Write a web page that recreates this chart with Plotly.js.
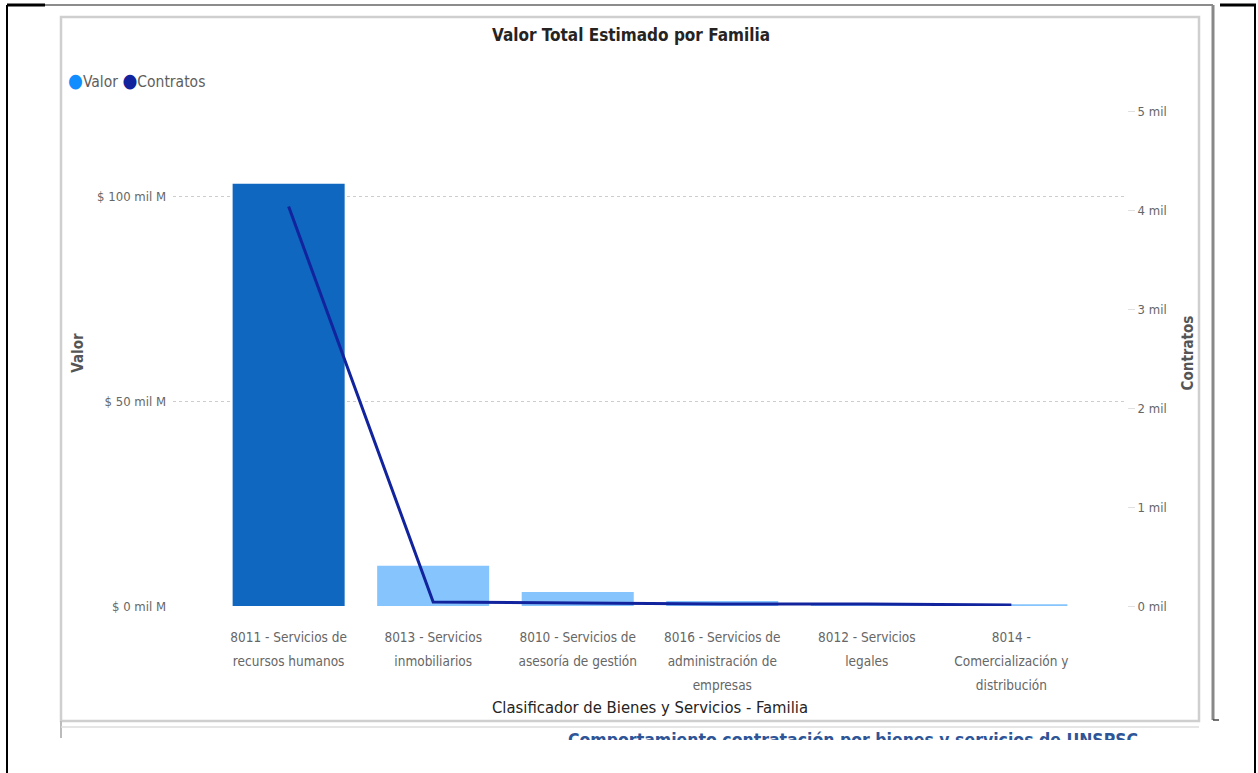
<!DOCTYPE html>
<html>
<head>
<meta charset="utf-8">
<script src="https://cdn.plot.ly/plotly-3.0.1.min.js"></script>
<style>
  html, body { margin:0; padding:0; background:#fff; }
  #wrap { position:relative; width:1258px; height:773px; overflow:hidden; }
  #chart { position:absolute; left:0; top:0; width:1258px; height:773px; }
  #cut { position:absolute; left:568px; top:730px; width:600px; height:10px; overflow:hidden;
         font-family:"DejaVu Sans Condensed","Open Sans",sans-serif; font-size:17.5px; font-weight:bold; color:#2E5597; white-space:nowrap; line-height:20px; }
</style>
</head>
<body>
<div id="wrap">
<div id="chart"></div>
<div id="cut">Comportamiento contratación por bienes y servicios de UNSPSC</div>
</div>
<script>
// ---- data ----
const categories = [
  "8011 - Servicios de<br>recursos humanos",
  "8013 - Servicios<br>inmobiliarios",
  "8010 - Servicios de<br>asesoría de gestión",
  "8016 - Servicios de<br>administración de<br>empresas",
  "8012 - Servicios<br>legales",
  "8014 -<br>Comercialización y<br>distribución"
];
const valorMilM = [103, 9.8, 3.4, 1.2, 0.6, 0.4];      // $ mil M
const contratos = [4040, 40, 30, 20, 20, 10];            // contracts
const leftTickVals = [0, 50, 100];
const leftTickText = ["$ 0 mil M", "$ 50 mil M", "$ 100 mil M"];
const rightTickVals = [0, 1000, 2000, 3000, 4000, 5000];
const rightTickText = ["0 mil", "1 mil", "2 mil", "3 mil", "4 mil", "5 mil"];

// ---- layout helpers ----
const W = 1258, H = 773;
const M = {l:173, r:131, t:100, b:167};
const PW = W - M.l - M.r, PH = H - M.t - M.b;
const px = x => (x - M.l) / PW;
const py = y => (H - M.b - y) / PH;

const FONT = '"DejaVu Sans Condensed", "Open Sans", sans-serif';
const barColors = valorMilM.map((v, i) => i === 0 ? '#0F67C0' : '#85C4FC');
const xIdx = categories.map((c, i) => i);

const traces = [
  {
    type: 'bar', name: 'Valor', x: xIdx, y: valorMilM,
    marker: {color: barColors}, width: 0.775, yaxis: 'y', hoverinfo: 'x+y'
  },
  {
    type: 'scatter', mode: 'lines', name: 'Contratos', x: xIdx, y: contratos,
    line: {color: '#12239E', width: 3}, yaxis: 'y2'
  }
];

function line(x0, y0, x1, y1, color, w) {
  return {type:'line', xref:'paper', yref:'paper', x0:px(x0), y0:py(y0), x1:px(x1), y1:py(y1),
          line:{color:color, width:w}, layer:'above'};
}

const shapes = [
  // outer document frame
  line(7, 5, 45, 5, '#000', 3),
  line(7, 5, 7, 773, '#000', 2),
  line(45, 5, 1213, 5, '#666', 1.5),
  line(1213, 5, 1213, 720, '#888', 3),
  line(1220, 5, 1256, 5, '#000', 3),
  line(1255, 5, 1255, 773, '#000', 2),
  line(1213, 720, 1219, 720, '#444', 1.5),
  // card border
  {type:'rect', xref:'paper', yref:'paper', x0:px(61), y0:py(17), x1:px(1199), y1:py(721),
   line:{color:'#CFCFCF', width:2.5}, fillcolor:'rgba(0,0,0,0)', layer:'below'},
  line(61, 721, 61, 738, '#BBB', 2),
  line(61, 727, 1199, 727, '#DDD', 1.5)
];

const layout = {
  width: W, height: H,
  margin: M,
  paper_bgcolor: '#fff', plot_bgcolor: 'rgba(0,0,0,0)',
  showlegend: false,
  bargap: 0.2,
  font: {family: FONT, color: '#666'},
  title: {text: 'Valor Total Estimado por Familia', xref: 'container', x: 631 / W, xanchor: 'center',
          y: 1 - 35 / H, yanchor: 'middle', font: {family: FONT, size: 17, color: '#252423', weight: 'bold'}},
  xaxis: {
    range: [-0.8, 5.8], tickvals: xIdx, ticktext: categories,
    showgrid: false, zeroline: false, showline: false, ticks: '',
    ticklabelstandoff: 21,
    tickfont: {family: FONT, size: 13.5, color: '#666'},
    title: {text: 'Clasificador de Bienes y Servicios - Familia', standoff: 22,
            font: {family: FONT, size: 16.5, color: '#252423'}},
    automargin: false, fixedrange: true
  },
  yaxis: {
    range: [0, PH / 4.1], tickvals: leftTickVals, ticktext: leftTickText,
    showgrid: true, gridcolor: '#CFCDCB', griddash: 'dot', gridwidth: 1,
    zeroline: false, showline: false, ticks: '',
    ticklabelstandoff: 6,
    tickfont: {family: FONT, size: 13, color: '#666'},
    title: {text: 'Valor', standoff: 9, font: {family: FONT, size: 15, color: '#555', weight: 'bold'}},
    automargin: false
  },
  yaxis2: {
    overlaying: 'y', side: 'right',
    range: [0, PH / 98.9 * 1000], tickvals: rightTickVals, ticktext: rightTickText,
    showgrid: false, zeroline: false, showline: false,
    ticks: 'outside', ticklen: 7, tickcolor: '#E0E0E0', tickwidth: 1,
    tickfont: {family: FONT, size: 13, color: '#666'},
    title: {text: 'Contratos', standoff: 16, font: {family: FONT, size: 15, color: '#555', weight: 'bold'}},
    automargin: false
  },
  shapes: shapes,
  annotations: [
    {xref:'paper', yref:'paper', x: px(66), y: py(80), xanchor:'left', yanchor:'middle', showarrow:false,
     text: '<span style="color:#118DFF;font-size:19px">●</span>Valor <span style="color:#12239E;font-size:19px">●</span>Contratos',
     font: {family: FONT, size: 15.5, color: '#605E5C'}}
  ]
};

Plotly.newPlot('chart', traces, layout, {displayModeBar: false, staticPlot: true}).then(gd => {
  // widen the line spacing of the multi-line category labels to match the reference (24px per line)
  gd.querySelectorAll('.xtick text').forEach(t => {
    t.querySelectorAll('tspan.line').forEach((ts, j) => {
      if (j > 0) ts.setAttribute('dy', (24 * j) + 'px');
    });
  });
});
</script>
</body>
</html>
